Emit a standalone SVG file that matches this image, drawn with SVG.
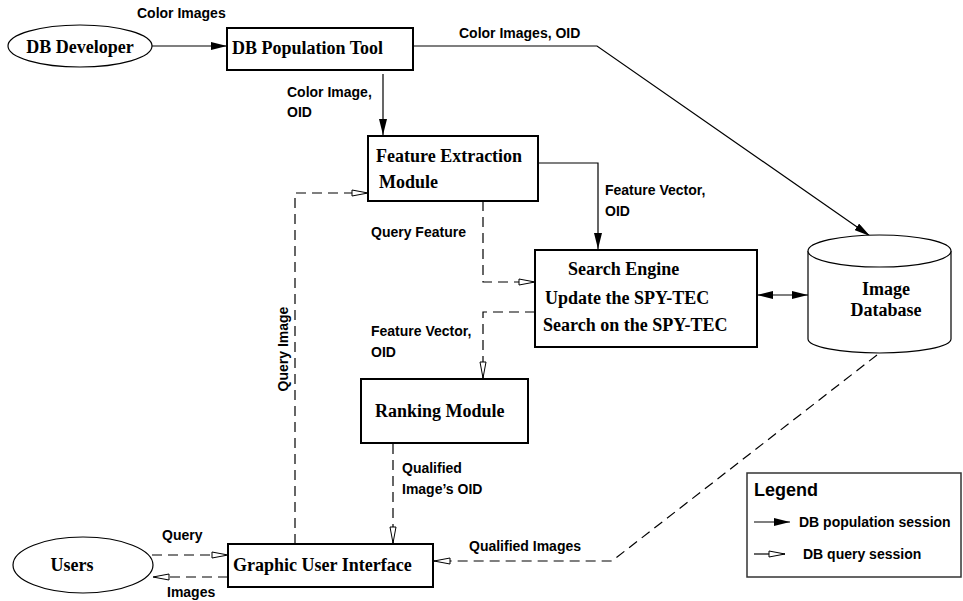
<svg xmlns="http://www.w3.org/2000/svg" width="963" height="601" viewBox="0 0 963 601">
  <defs>
    <style>
      .box { fill: #fff; stroke: #000; stroke-width: 2; }
      .shape { fill: #fff; stroke: #000; stroke-width: 1.2; }
      .node { font-family: "Liberation Serif", "Times New Roman", serif; font-weight: bold; font-size: 18px; fill: #000; }
      .lbl { font-family: "Liberation Sans", Arial, sans-serif; font-weight: bold; font-size: 14px; fill: #000; }
      .legend-title { font-family: "Liberation Sans", Arial, sans-serif; font-weight: bold; font-size: 18px; fill: #000; }
      .solid { fill: none; stroke: #000; stroke-width: 1.2; }
      .dash { fill: none; stroke: #000; stroke-width: 1.2; stroke-dasharray: 10 6; }
    </style>
    <marker id="filled" viewBox="0 0 16 8" refX="16" refY="4" markerWidth="16" markerHeight="8" markerUnits="userSpaceOnUse" orient="auto-start-reverse">
      <path d="M0,0 L16,4 L0,8 z" fill="#000"/>
    </marker>
    <marker id="hollow" viewBox="0 0 18 8" refX="17" refY="4" markerWidth="18" markerHeight="8" markerUnits="userSpaceOnUse" orient="auto">
      <path d="M1,1 L17,4 L1,7 z" fill="#fff" stroke="#000" stroke-width="1"/>
    </marker>
  </defs>

  <rect width="963" height="601" fill="#fff"/>

  <!-- connectors -->
  <g id="connectors">
    <!-- population session (solid) -->
    <path class="solid" d="M152,46 H227" marker-end="url(#filled)"/>
    <path class="solid" d="M383,74 V135" marker-end="url(#filled)"/>
    <path class="solid" d="M413,46 H597 L870,236" marker-end="url(#filled)"/>
    <path class="solid" d="M538,163 H598 V249" marker-end="url(#filled)"/>
    <path class="solid" d="M757,295 H808" marker-start="url(#filled)" marker-end="url(#filled)"/>

    <!-- query session (dashed) -->
    <path class="dash" d="M295,544 V193 H368" marker-end="url(#hollow)"/>
    <path class="dash" d="M483,201 V282 H535" marker-end="url(#hollow)"/>
    <path class="dash" d="M535,312 H483 V378" marker-end="url(#hollow)"/>
    <path class="dash" d="M393,444 V543" marker-end="url(#hollow)"/>
    <path class="dash" d="M877,355 L612,561 H434" marker-end="url(#hollow)"/>
    <path class="dash" d="M152,555 H228" marker-end="url(#hollow)"/>
    <path class="dash" d="M228,577 H153" marker-end="url(#hollow)"/>

    <!-- connector labels -->
    <text class="lbl" x="137" y="18">Color Images</text>
    <text class="lbl" x="459" y="38">Color Images, OID</text>
    <text class="lbl" x="287" y="97">Color Image,</text>
    <text class="lbl" x="287" y="117">OID</text>
    <text class="lbl" x="605" y="195">Feature Vector,</text>
    <text class="lbl" x="605" y="216">OID</text>
    <text class="lbl" x="371" y="237">Query Feature</text>
    <text class="lbl" x="371" y="336">Feature Vector,</text>
    <text class="lbl" x="371" y="357">OID</text>
    <text class="lbl" x="402" y="473">Qualified</text>
    <text class="lbl" x="402" y="494">Image’s OID</text>
    <text class="lbl" x="469" y="551">Qualified Images</text>
    <text class="lbl" x="162" y="540">Query</text>
    <text class="lbl" x="167" y="597">Images</text>
    <text class="lbl" transform="translate(288,349) rotate(-90)" text-anchor="middle">Query Image</text>
  </g>

  <!-- nodes -->
  <g id="db-developer">
    <ellipse class="shape" cx="80" cy="46" rx="72" ry="21"/>
    <text class="node" x="80" y="53" text-anchor="middle">DB Developer</text>
  </g>

  <g id="db-population-tool">
    <rect class="box" x="227" y="28" width="186" height="42"/>
    <text class="node" x="232" y="54">DB Population Tool</text>
  </g>

  <g id="feature-extraction">
    <rect class="box" x="368" y="136" width="170" height="65"/>
    <text class="node" x="376" y="162">Feature Extraction</text>
    <text class="node" x="379" y="188">Module</text>
  </g>

  <g id="search-engine">
    <rect class="box" x="535" y="250" width="222" height="97"/>
    <text class="node" x="568" y="275">Search Engine</text>
    <text class="node" x="545" y="304">Update the SPY-TEC</text>
    <text class="node" x="543" y="331">Search on the SPY-TEC</text>
  </g>

  <g id="image-database">
    <path class="shape" d="M808,251 V339 A71.5,14 0 0 0 951,339 V251"/>
    <ellipse class="shape" cx="879.5" cy="251" rx="71.5" ry="16"/>
    <text class="node" x="886" y="295" text-anchor="middle">Image</text>
    <text class="node" x="886" y="316" text-anchor="middle">Database</text>
  </g>

  <g id="ranking-module">
    <rect class="box" x="361" y="379" width="167" height="64"/>
    <text class="node" x="375" y="417">Ranking Module</text>
  </g>

  <g id="graphic-user-interface">
    <rect class="box" x="228" y="544" width="205" height="43"/>
    <text class="node" x="233" y="571">Graphic User Interface</text>
  </g>

  <g id="users">
    <ellipse class="shape" cx="83" cy="565" rx="70" ry="28"/>
    <text class="node" x="72" y="571" text-anchor="middle">Users</text>
  </g>

  <g id="legend">
    <rect x="747" y="473" width="214" height="104" fill="#fff" stroke="#333" stroke-width="1.5"/>
    <text class="legend-title" x="754" y="496">Legend</text>
    <path class="solid" d="M754,522 H790" marker-end="url(#filled)"/>
    <text class="lbl" x="799" y="527">DB population session</text>
    <path class="solid" d="M754,554 H785" marker-end="url(#hollow)"/>
    <text class="lbl" x="803" y="559">DB query session</text>
  </g>
</svg>
